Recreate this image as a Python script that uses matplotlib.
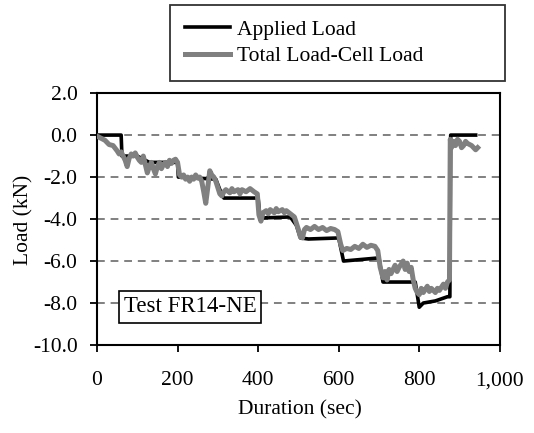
import matplotlib
matplotlib.use("Agg")
import matplotlib.pyplot as plt
from matplotlib.ticker import FuncFormatter

plt.rcParams['font.family'] = ['Liberation Serif', 'DejaVu Serif']
plt.rcParams['axes.unicode_minus'] = False

# applied load (step history)
t_applied = [0, 60, 62, 100, 110, 130, 200, 202, 295, 305, 315, 400, 405, 480,
             495, 505, 525, 600, 612, 700, 710, 790, 800, 810, 840, 870, 876,
             878, 940]
load_applied = [0, 0, -1.0, -1.0, -1.1, -1.3, -1.3, -2.0, -2.1, -2.6, -3.0,
                -3.0, -3.95, -3.9, -4.3, -4.9, -4.95, -4.9, -6.0, -5.85, -7.0,
                -7.0, -8.2, -8.0, -7.9, -7.7, -7.7, 0, 0]

# total load-cell load
t_cell = [0, 10, 20, 30, 40, 50, 55, 60, 65, 70, 75, 80, 85, 90, 95, 100, 105,
          110, 115, 120, 125, 130, 135, 140, 145, 150, 155, 160, 165, 170, 175,
          180, 185, 190, 195, 200, 205, 210, 215, 220, 225, 230, 235, 240, 245,
          250, 255, 260, 265, 270, 275, 280, 285, 290, 295, 300, 305, 310, 315,
          320, 330, 335, 340, 350, 355, 360, 370, 380, 390, 398, 402, 407, 412,
          420, 425, 430, 440, 445, 450, 460, 465, 470, 480, 490, 495, 500, 505,
          510, 515, 520, 530, 540, 550, 560, 570, 580, 590, 598, 605, 610, 620,
          630, 640, 650, 660, 670, 680, 690, 697, 703, 710, 715, 720, 725, 730,
          740, 745, 750, 760, 765, 770, 775, 780, 785, 790, 795, 800, 805, 810,
          820, 825, 830, 840, 845, 850, 860, 865, 870, 875, 877, 880, 885, 890,
          895, 900, 905, 910, 915, 920, 930, 940, 945]
load_cell = [-0.05, -0.15, -0.25, -0.45, -0.5, -0.75, -0.9, -0.8, -1.0, -1.2,
             -1.5, -1.1, -0.9, -1.0, -0.85, -1.05, -1.2, -1.3, -1.0, -1.4, -1.8,
             -1.5, -1.3, -1.6, -1.85, -1.5, -1.3, -1.6, -1.4, -1.3, -1.5, -1.2,
             -1.35, -1.2, -1.15, -1.3, -1.9, -2.0, -1.9, -2.1, -2.0, -2.2, -2.0,
             -2.1, -1.9, -2.05, -2.0, -2.2, -2.7, -3.25, -2.5, -1.7, -1.9, -2.0,
             -2.2, -2.5, -2.8, -2.9, -2.7, -2.6, -2.75, -2.55, -2.7, -2.6, -2.8,
             -2.6, -2.7, -2.55, -2.7, -2.8, -3.8, -4.1, -3.7, -3.6, -3.75, -3.55,
             -3.7, -3.5, -3.65, -3.55, -3.7, -3.6, -3.75, -3.9, -4.2, -4.5,
             -4.85, -4.9, -4.5, -4.4, -4.5, -4.35, -4.5, -4.4, -4.55, -4.45,
             -4.5, -4.6, -5.2, -5.5, -5.4, -5.45, -5.3, -5.4, -5.2, -5.35, -5.25,
             -5.3, -5.5, -6.3, -6.8, -6.5, -6.9, -6.4, -6.6, -6.2, -6.5, -6.3,
             -6.0, -6.4, -6.1, -6.5, -6.3, -6.9, -7.3, -7.5, -7.6, -7.3, -7.5,
             -7.2, -7.45, -7.3, -7.5, -7.3, -7.4, -7.1, -7.3, -7.0, -6.9, -0.2,
             -0.6, -0.3, -0.5, -0.2, -0.3, -0.6, -0.5, -0.3, -0.4, -0.5, -0.7,
             -0.6]

x_ticks = [0, 200, 400, 600, 800, 1000]
y_ticks = [2, 0, -2, -4, -6, -8, -10]
grid_levels = [0, -2, -4, -6, -8]

fs = 15.5
fig = plt.figure(figsize=(5.34, 4.33), dpi=100)
ax = fig.add_axes([0.1816, 0.2032, 0.7544, 0.5818])

for g in grid_levels:
    ax.axhline(g, color='#808080', lw=1.4, ls=(0, (4, 3)), zorder=1)

ax.plot(t_applied, load_applied, color='black', lw=2.6, label='Applied Load',
        zorder=3)
ax.plot(t_cell, load_cell, color='#808080', lw=3.6,
        label='Total Load-Cell Load', zorder=4, solid_joinstyle='round')

ax.set_xlim(0, 1000)
ax.set_ylim(-10, 2)
ax.set_xticks(x_ticks)
ax.set_yticks(y_ticks)
ax.xaxis.set_major_formatter(FuncFormatter(lambda v, p: f"{v:,.0f}"))
ax.yaxis.set_major_formatter(FuncFormatter(lambda v, p: f"{v:.1f}"))
ax.tick_params(labelsize=fs, direction='out', length=5, width=1.3)
ax.tick_params(axis='x', pad=14)
ax.tick_params(axis='y', pad=9)
for s in ax.spines.values():
    s.set_linewidth(1.5)

ax.set_xlabel('Duration (sec)', fontsize=fs)
ax.set_ylabel('Load (kN)', fontsize=fs)
ax.xaxis.set_label_coords(0.503, -0.258)
ax.yaxis.set_label_coords(-0.181, 0.496)
ax.xaxis.label.set_va('center')
ax.yaxis.label.set_va('center')

ax.text(0.231, 0.151, 'Test FR14-NE', transform=ax.transAxes, fontsize=16.5,
        ha='center', va='center', zorder=5,
        bbox=dict(boxstyle='square,pad=0.22', fc='white', ec='black', lw=1.2))

leg = fig.legend(loc='upper left', bbox_to_anchor=(0.318, 0.804, 0.627, 0.185),
                 mode='expand', borderaxespad=0, fontsize=fs, frameon=True,
                 fancybox=False, edgecolor='black', handlelength=2.1,
                 handletextpad=0.3, borderpad=0.7, labelspacing=0.3)
leg.get_frame().set_linewidth(1.3)

fig.savefig('out.png', dpi=100)
